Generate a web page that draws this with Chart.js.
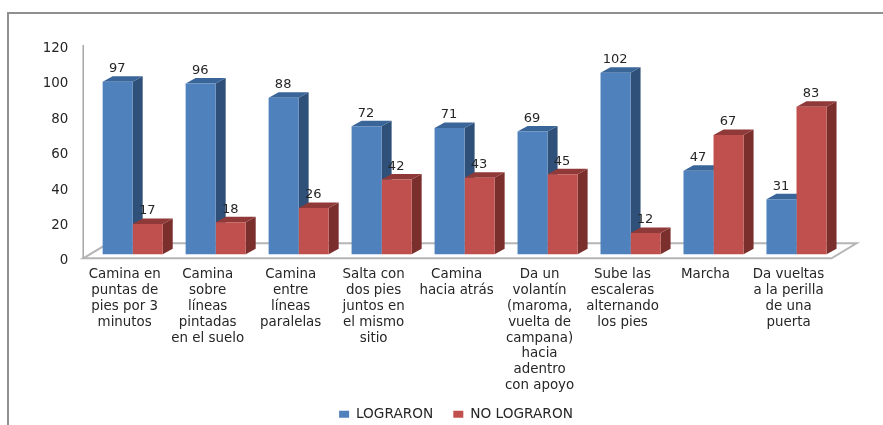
<!DOCTYPE html>
<html>
<head>
<meta charset="utf-8">
<script src="https://cdn.jsdelivr.net/npm/chart.js@4"></script>
<style>
  html, body { margin: 0; padding: 0; background: #fff; }
  #wrap { position: relative; width: 883px; height: 425px; overflow: hidden; }
  #frame { position: absolute; left: 7px; top: 12px; width: 900px; height: 500px; border: 2px solid #8f8f8f; box-sizing: border-box; }
  canvas { position: relative; }
</style>
</head>
<body>
<div id="wrap">
  <div id="frame"></div>
  <canvas id="chartHabilidades" width="883" height="425"></canvas>
</div>
<script>
const categorias = [
  ['Camina en', 'puntas de', 'pies por 3', 'minutos'],
  ['Camina', 'sobre', 'líneas', 'pintadas', 'en el suelo'],
  ['Camina', 'entre', 'líneas', 'paralelas'],
  ['Salta con', 'dos pies', 'juntos en', 'el mismo', 'sitio'],
  ['Camina', 'hacia atrás'],
  ['Da un', 'volantín', '(maroma,', 'vuelta de', 'campana)', 'hacia', 'adentro', 'con apoyo'],
  ['Sube las', 'escaleras', 'alternando', 'los pies'],
  ['Marcha'],
  ['Da vueltas', 'a la perilla', 'de una', 'puerta']
];
const lograron = [97, 96, 88, 72, 71, 69, 102, 47, 31];
const noLograron = [17, 18, 26, 42, 43, 45, 12, 67, 83];

const fuente = '"DejaVu Sans"';
const fondo = 10, alto3d = 5.5;
const colores = [
  { cara: '#4f81bd', lado: '#2f5078', tapa: '#3a6599' },
  { cara: '#c0504d', lado: '#7b2f2d', tapa: '#8f3a38' }
];

// caras laterales, piso y etiquetas: Chart.js no trae barras 3D
const barras3d = {
  id: 'barras3d',
  beforeDatasetsDraw(chart) {
    const ctx = chart.ctx;
    const y0 = chart.scales.y.getPixelForValue(0);
    const izq = chart.chartArea.left - 8;
    const der = chart.getDatasetMeta(1).data[8].x + 20;

    ctx.save();
    ctx.strokeStyle = '#b5b5b5';
    ctx.lineWidth = 2;
    ctx.beginPath();
    ctx.moveTo(izq, y0 + 4);
    ctx.lineTo(izq + 25, y0 - 11);
    ctx.lineTo(der + 25, y0 - 11);
    ctx.lineTo(der, y0 + 4);
    ctx.closePath();
    ctx.stroke();
    ctx.strokeStyle = '#a6a6a6';
    ctx.lineWidth = 1.5;
    ctx.beginPath();
    ctx.moveTo(izq, chart.chartArea.top - 3.5);
    ctx.lineTo(izq, y0 + 4);
    ctx.stroke();

    chart.data.datasets.forEach((ds, i) => {
      chart.getDatasetMeta(i).data.forEach(b => {
        const m = b.width / 2;
        ctx.fillStyle = colores[i].lado;
        ctx.beginPath();
        ctx.moveTo(b.x + m, b.y);
        ctx.lineTo(b.x + m + fondo, b.y - alto3d);
        ctx.lineTo(b.x + m + fondo, b.base - alto3d);
        ctx.lineTo(b.x + m, b.base);
        ctx.closePath();
        ctx.fill();
        ctx.fillStyle = colores[i].tapa;
        ctx.beginPath();
        ctx.moveTo(b.x - m, b.y);
        ctx.lineTo(b.x - m + fondo, b.y - alto3d);
        ctx.lineTo(b.x + m + fondo, b.y - alto3d);
        ctx.lineTo(b.x + m, b.y);
        ctx.closePath();
        ctx.fill();
      });
    });
    ctx.restore();
  },
  afterDatasetsDraw(chart) {
    const ctx = chart.ctx;
    ctx.save();
    ctx.font = '13px ' + fuente;
    ctx.fillStyle = '#262626';
    ctx.textAlign = 'center';
    ctx.textBaseline = 'middle';
    chart.data.datasets.forEach((ds, i) => {
      chart.getDatasetMeta(i).data.forEach((b, j) => {
        ctx.fillText(ds.data[j], b.x - 0.5, b.y - 13);
      });
    });
    ctx.restore();
  }
};

// las cajas de los ejes son más chicas que sus textos, sin esto se recortan
const sinRecorte = s => { s._computeLabelArea = () => null; };

new Chart(document.getElementById('chartHabilidades'), {
  type: 'bar',
  data: {
    labels: categorias,
    datasets: [
      { label: 'LOGRARON', data: lograron, backgroundColor: colores[0].cara, yAxisID: 'y' },
      { label: 'NO LOGRARON', data: noLograron, backgroundColor: colores[1].cara, yAxisID: 'y' }
    ]
  },
  options: {
    responsive: false,
    animation: false,
    layout: { padding: { left: 74, right: 45, top: 48.5, bottom: -6 } },
    datasets: { bar: { categoryPercentage: 0.724, barPercentage: 1 } },
    plugins: {
      tooltip: { enabled: false },
      legend: {
        position: 'bottom',
        labels: {
          boxWidth: 10, boxHeight: 7, padding: 20,
          color: '#262626',
          font: { family: fuente, size: 13.7 }
        }
      }
    },
    scales: {
      x: {
        grid: { display: false, drawTicks: false },
        border: { display: false },
        afterFit(s) { s.height = 126.5; sinRecorte(s); },
        ticks: {
          maxRotation: 0, autoSkip: false, padding: 5.5, labelOffset: -8,
          color: '#262626',
          font: { family: fuente, size: 13.4, lineHeight: 1.19 }
        }
      },
      // escala de las barras: el cero se apoya en el piso, un poco arriba del eje
      y: {
        display: false,
        min: -3.66,
        max: 115.7
      },
      yEje: {
        position: 'left',
        min: 0,
        max: 120,
        grid: { display: false, drawTicks: false },
        border: { display: false },
        afterFit(s) { s.width = 17.2; sinRecorte(s); },
        ticks: {
          stepSize: 20, padding: 23,
          color: '#262626',
          font: { family: fuente, size: 13.4 }
        }
      }
    }
  },
  plugins: [barras3d]
});
</script>
</body>
</html>
